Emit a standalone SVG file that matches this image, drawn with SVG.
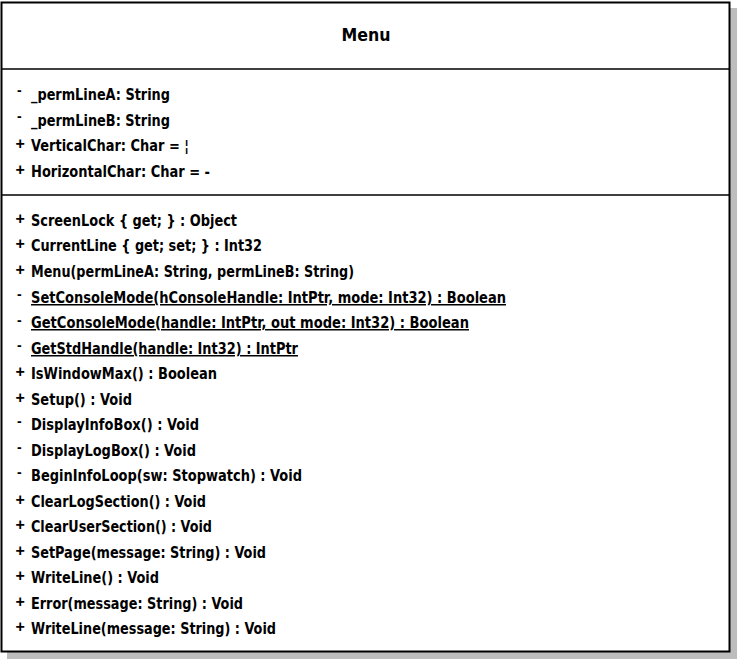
<svg xmlns="http://www.w3.org/2000/svg" width="737" height="659" viewBox="0 0 737 659">
<style>
.t{font-family:"DejaVu Sans Condensed","DejaVu Sans",sans-serif;font-weight:bold;font-size:15px;fill:#000}
.m{font-family:"Liberation Sans",Arial,sans-serif;font-weight:bold;font-size:14px;fill:#000}
.p{font-family:"Liberation Sans",Arial,sans-serif;font-weight:bold;font-size:16px;fill:#000}
.ttl{font-family:"DejaVu Sans Condensed","DejaVu Sans",sans-serif;font-weight:bold;font-size:18px;fill:#000}
.u{text-decoration:underline}
.ln{stroke:#000;stroke-width:1.5}
</style>
<rect x="0" y="0" width="737" height="659" fill="#fff"/>
<g id="Menu">
<rect x="7" y="8" width="730" height="651" fill="#bdbdbd"/>
<rect x="1.5" y="2.5" width="728" height="649" fill="#fff" stroke="#000" stroke-width="2"/>
<line class="ln" x1="1" y1="69" x2="730" y2="69"/>
<line class="ln" x1="1" y1="195" x2="730" y2="195"/>
<text class="ttl" x="366" y="41" text-anchor="middle" textLength="49" lengthAdjust="spacingAndGlyphs">Menu</text>
<g class="m">
<text x="17" y="95">-</text>
<text x="17" y="121">-</text>
<text x="17" y="299">-</text>
<text x="17" y="325">-</text>
<text x="17" y="350">-</text>
<text x="17" y="426">-</text>
<text x="17" y="452">-</text>
<text x="17" y="477">-</text>
</g>
<g class="p">
<text x="15.5" y="149">+</text>
<text x="15.5" y="175">+</text>
<text x="15.5" y="224">+</text>
<text x="15.5" y="249">+</text>
<text x="15.5" y="275">+</text>
<text x="15.5" y="377">+</text>
<text x="15.5" y="403">+</text>
<text x="15.5" y="505">+</text>
<text x="15.5" y="530">+</text>
<text x="15.5" y="556">+</text>
<text x="15.5" y="581">+</text>
<text x="15.5" y="607">+</text>
<text x="15.5" y="632">+</text>
</g>
<g class="t">
<text x="31" y="100" textLength="139" lengthAdjust="spacingAndGlyphs">_permLineA: String</text>
<text x="31" y="126" textLength="139" lengthAdjust="spacingAndGlyphs">_permLineB: String</text>
<text x="31" y="151" textLength="158" lengthAdjust="spacingAndGlyphs">VerticalChar: Char = ¦</text>
<text x="31" y="177" textLength="179" lengthAdjust="spacingAndGlyphs">HorizontalChar: Char = -</text>
<text x="31" y="226" textLength="206" lengthAdjust="spacingAndGlyphs">ScreenLock { get; } : Object</text>
<text x="31" y="251" textLength="231" lengthAdjust="spacingAndGlyphs">CurrentLine { get; set; } : Int32</text>
<text x="31" y="277" textLength="323" lengthAdjust="spacingAndGlyphs">Menu(permLineA: String, permLineB: String)</text>
<text class="u" x="31" y="303" textLength="475" lengthAdjust="spacingAndGlyphs">SetConsoleMode(hConsoleHandle: IntPtr, mode: Int32) : Boolean</text>
<text class="u" x="31" y="328" textLength="438" lengthAdjust="spacingAndGlyphs">GetConsoleMode(handle: IntPtr, out mode: Int32) : Boolean</text>
<text class="u" x="31" y="354" textLength="267" lengthAdjust="spacingAndGlyphs">GetStdHandle(handle: Int32) : IntPtr</text>
<text x="31" y="379" textLength="186" lengthAdjust="spacingAndGlyphs">IsWindowMax() : Boolean</text>
<text x="31" y="405" textLength="101" lengthAdjust="spacingAndGlyphs">Setup() : Void</text>
<text x="31" y="430" textLength="168" lengthAdjust="spacingAndGlyphs">DisplayInfoBox() : Void</text>
<text x="31" y="456" textLength="165" lengthAdjust="spacingAndGlyphs">DisplayLogBox() : Void</text>
<text x="31" y="481" textLength="271" lengthAdjust="spacingAndGlyphs">BeginInfoLoop(sw: Stopwatch) : Void</text>
<text x="31" y="507" textLength="175" lengthAdjust="spacingAndGlyphs">ClearLogSection() : Void</text>
<text x="31" y="532" textLength="181" lengthAdjust="spacingAndGlyphs">ClearUserSection() : Void</text>
<text x="31" y="558" textLength="235" lengthAdjust="spacingAndGlyphs">SetPage(message: String) : Void</text>
<text x="31" y="583" textLength="128" lengthAdjust="spacingAndGlyphs">WriteLine() : Void</text>
<text x="31" y="609" textLength="212" lengthAdjust="spacingAndGlyphs">Error(message: String) : Void</text>
<text x="31" y="634" textLength="245" lengthAdjust="spacingAndGlyphs">WriteLine(message: String) : Void</text>
</g>
</g>
<g id="connectors"/>
</svg>
